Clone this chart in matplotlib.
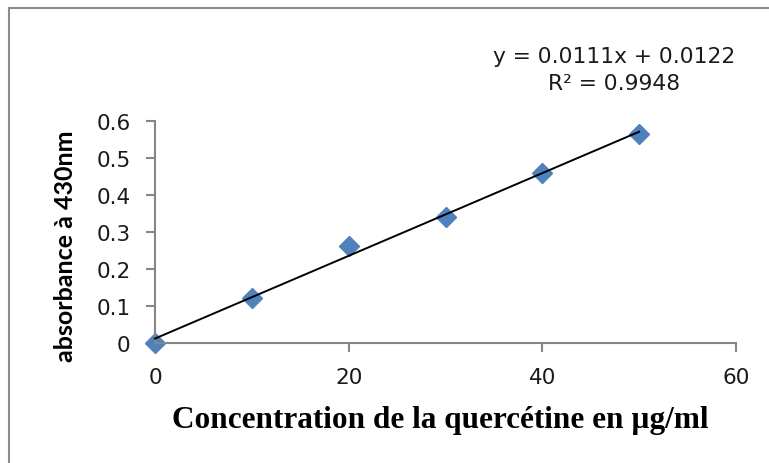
import numpy as np
import matplotlib
matplotlib.use("Agg")
import matplotlib.pyplot as plt
from matplotlib.lines import Line2D

# data
concentration = [0, 10, 20, 30, 40, 50]
absorbance = [0.0, 0.122, 0.263, 0.340, 0.459, 0.565]
x_ticks = [0, 20, 40, 60]
y_ticks = [0, 0.1, 0.2, 0.3, 0.4, 0.5, 0.6]
y_tick_labels = ["0", "0.1", "0.2", "0.3", "0.4", "0.5", "0.6"]
equation_text = "y = 0.0111x + 0.0122"
r2_text = "R² = 0.9948"

W, H = 769, 464
fig = plt.figure(figsize=(W / 100, H / 100), dpi=100)
fig.patch.set_facecolor("white")

ax_l, ax_r, ax_b, ax_t = 155, 736, 344, 122
ax = fig.add_axes([ax_l / W, 1 - ax_b / H, (ax_r - ax_l) / W, (ax_b - ax_t) / H])
ax.set_xlim(0, 60)
ax.set_ylim(0, 0.6)

slope, intercept = np.polyfit(concentration, absorbance, 1)
xf = np.array([concentration[0], concentration[-1]])
ax.plot(xf, slope * xf + intercept, color="black", lw=1.4, zorder=3, clip_on=False)
ax.plot(concentration, absorbance, linestyle="none", marker="D", markersize=10.5,
        color="#4F81BD", markeredgecolor="#4F81BD", zorder=2, clip_on=False)

for s in ["top", "right"]:
    ax.spines[s].set_visible(False)
for s in ["left", "bottom"]:
    ax.spines[s].set_color("#868686")
    ax.spines[s].set_linewidth(1.5)

ax.set_xticks(x_ticks)
ax.set_yticks(y_ticks)
ax.set_yticklabels(y_tick_labels)
ax.tick_params(axis="both", direction="out", length=6.5, width=1.5, color="#868686",
               labelsize=15.5, labelcolor="#1a1a1a")
ax.tick_params(axis="x", pad=11)
ax.tick_params(axis="y", pad=11)
for lab in ax.get_xticklabels() + ax.get_yticklabels():
    lab.set_family("DejaVu Sans")

ax.set_xlabel("Concentration de la quercétine en µg/ml", family="Liberation Serif",
              fontweight="bold", fontsize=22.5)
ax.xaxis.set_label_coords((440 - ax_l) / (ax_r - ax_l), -(406 - ax_b) / (ax_b - ax_t))
ax.set_ylabel("absorbance à 430nm", family="Lato", fontweight="bold", fontsize=18)
ax.yaxis.set_label_coords(-(ax_l - 77) / (ax_r - ax_l), (ax_b - 246) / (ax_b - ax_t))

fig.text(614 / W, 1 - 57 / H, equation_text, ha="center", va="center",
         family="DejaVu Sans", fontsize=15.7, color="#1a1a1a")
fig.text(614 / W, 1 - 84 / H, r2_text, ha="center", va="center",
         family="DejaVu Sans", fontsize=15.7, color="#1a1a1a")

# outer frame (left and top)
fig.add_artist(Line2D([9 / W, 9 / W], [0, 1 - 9 / H], transform=fig.transFigure,
                      color="#8c8c8c", lw=1.5))
fig.add_artist(Line2D([9 / W, 1], [1 - 9 / H, 1 - 9 / H], transform=fig.transFigure,
                      color="#8c8c8c", lw=1.5))

fig.savefig("out.png", dpi=100)
